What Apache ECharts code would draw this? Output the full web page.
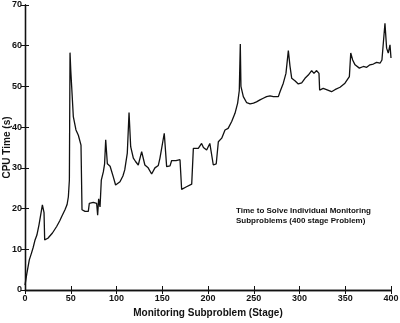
<!DOCTYPE html>
<html>
<head>
<meta charset="utf-8">
<script src="https://cdn.jsdelivr.net/npm/echarts@6/dist/echarts.min.js"></script>
<style>
  html, body { margin: 0; padding: 0; background: #fff; }
  #chart { width: 400px; height: 323px; }
</style>
</head>
<body>
<div id="chart"></div>
<script>
// 数据
var stages = [0, 2, 4.7, 7, 9, 11, 13, 15.3, 17, 19, 20.8, 21.5, 25, 30, 34.6, 38, 40, 43.7, 46, 47.4,
  48.5, 49.2, 50, 51, 52.8, 55.7, 58.3, 61.2, 62.3, 65.6, 69.2, 70.3, 74.6, 78.3, 79.4, 80.5, 82, 83.4,
  85.6, 87, 88.2, 90, 93, 96.5, 99, 103.8, 107, 109, 111.8, 113.7, 115.5, 118.4, 121, 123.8, 127.5,
  129.3, 131, 134.6, 138.4, 142, 145.7, 147.5, 149.4, 152.2, 154.8, 158.5, 160.3, 165, 169.4, 171.2,
  176, 182.2, 184, 189.4, 193, 195, 198.5, 202, 204, 205.8, 209, 211.3, 215, 218.6, 222, 225.9, 229.5,
  232.4, 234.2, 235.3, 236, 238.6, 242.3, 246, 249.7, 253, 256.8, 260.4, 264, 267.8, 271.4, 276.9,
  278.7, 282.3, 285.2, 287.8, 289.6, 291.5, 295, 298.7, 302.4, 306, 309.6, 313.3, 315.8, 318.7, 321.3,
  322, 325.9, 329.5, 335, 338.7, 344.3, 349.7, 354.5, 356, 358.1, 360.7, 365.4, 369.8, 373.4, 377,
  380.7, 384.3, 388, 390.1, 393.4, 395.2, 397, 398.9, 400];
var cpuTime = [1.2, 4, 7.4, 9, 10.5, 12.3, 13.5, 16, 16, 20.9, 19, 12.3, 12.7, 14, 15.6, 17, 18, 19.7, 21, 22.9,
  27, 58.3, 54, 50, 42.6, 39.3, 38, 35.6, 19.7, 19.3, 19.3, 21.3, 21.5, 21.3, 18.4, 22.4, 20.4, 27,
  29, 31, 36.9, 31, 30.4, 27.8, 25.8, 26.6, 28, 29.5, 33.6, 43.6, 35.2, 32.4, 31.5, 30.7, 34,
  33.6, 30.7, 30, 28.5, 30, 30.6, 32.4, 32, 38.5, 30.3, 30.5, 31.8, 31.8, 32, 24.7,
  25.3, 26, 34.8, 34.8, 36, 35, 34.4, 36, 36.4, 30.7, 31, 36.4, 37.3, 39.3, 39.7, 41.4, 43.4,
  45.9, 49, 60.4, 50, 47.5, 46, 45.7, 45.9, 46.2, 46.7, 47.1, 47.5, 47.7, 47.5, 47.5,
  48.7, 50.8, 53.2, 58.8, 55, 52, 51.4, 50.6, 50.9, 52, 52.8, 53.9, 53.2, 53.9, 53.2,
  49.1, 49.5, 49.2, 48.7, 49.2, 49.8, 50.8, 52.4, 58.2, 56.5, 55.3, 54.5, 54.9, 54.7, 55.3,
  55.5, 55.9, 55.7, 56.5, 65.5, 59.4, 58.2, 60.2, 57];
var xTicks = [0, 50, 100, 150, 200, 250, 300, 350, 400];
var yTicks = [0, 10, 20, 30, 40, 50, 60, 70];

var lineData = stages.map(function (s, i) { return [s, cpuTime[i]]; });

var myChart = echarts.init(document.getElementById("chart"));
var fontFam = "Liberation Sans, Arial, sans-serif";
var axisCommon = {
  axisLine: { show: true, lineStyle: { color: "#111", width: 1.3 } },
  axisTick: { show: true, inside: true, length: 4, lineStyle: { color: "#111", width: 1 } },
  splitLine: { show: false }
};

var option = {
  animation: false,
  backgroundColor: "#fff",
  grid: { left: 25, right: 9, top: 5, bottom: 33, containLabel: false, outerBoundsMode: "none" },
  xAxis: [
    Object.assign({
      type: "value", min: 0, max: 400, interval: 50, position: "bottom",
      axisLabel: { color: "#111", fontSize: 9, fontWeight: "bold", fontFamily: fontFam, margin: 4 },
      name: "Monitoring Subproblem (Stage)",
      nameLocation: "middle",
      nameGap: 18,
      nameMoveOverlap: false,
      nameTextStyle: { color: "#111", fontSize: 10, fontWeight: "bold", fontFamily: fontFam }
    }, axisCommon),
    Object.assign({
      type: "value", min: 0, max: 400, interval: 50, position: "top",
      axisLabel: { show: false }
    }, axisCommon)
  ],
  yAxis: [
    Object.assign({
      type: "value", min: 0, max: 70, interval: 10, position: "left",
      axisLabel: {
        color: "#111", fontSize: 9, fontWeight: "bold", fontFamily: fontFam, margin: 3,
        formatter: function (v) { return yTicks.indexOf(v) >= 0 ? v : ""; }
      },
      name: "CPU Time (s)",
      nameLocation: "middle",
      nameGap: 13,
      nameMoveOverlap: false,
      nameTextStyle: { color: "#111", fontSize: 10, fontWeight: "bold", fontFamily: fontFam }
    }, axisCommon),
    Object.assign({
      type: "value", min: 0, max: 70, interval: 10, position: "right",
      axisLabel: { show: false }
    }, axisCommon)
  ],
  graphic: [
    {
      type: "text",
      left: 236,
      top: 206,
      style: {
        text: "Time to Solve Individual Monitoring\nSubproblems (400 stage Problem)",
        fill: "#111",
        font: "bold 8px " + fontFam,
        lineHeight: 10
      }
    }
  ],
  series: [
    {
      type: "line",
      data: lineData,
      showSymbol: false,
      lineStyle: { color: "#111", width: 1.3 },
      xAxisIndex: 0,
      yAxisIndex: 0
    }
  ]
};

myChart.setOption(option);
window.addEventListener("resize", function () {
  myChart.resize();
});
</script>
</body>
</html>
